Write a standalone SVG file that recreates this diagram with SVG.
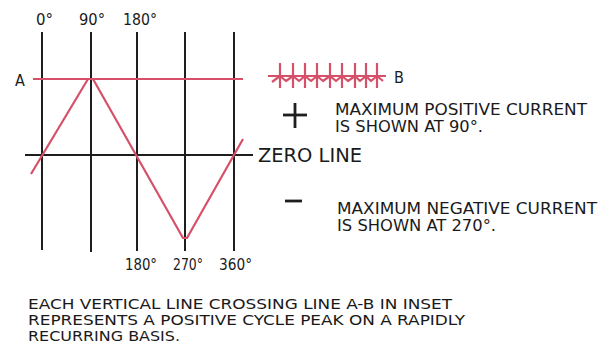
<svg xmlns="http://www.w3.org/2000/svg" width="611" height="359" viewBox="0 0 611 359">
<style>
text{font-family:"DejaVu Sans Condensed","DejaVu Sans","Liberation Sans",sans-serif;fill:#1a1a1a}
.k{stroke:#1e1e1e;stroke-width:2;fill:none}
.r{stroke:#d6506a;stroke-width:2.2;fill:none;stroke-linejoin:round}
.s{stroke:#1e1e1e;stroke-width:2.8}
</style>
<rect width="611" height="359" fill="#fff"/>
<g id="grid">
<line class="k" x1="42" y1="32" x2="42" y2="250"/>
<line class="k" x1="91" y1="32" x2="91" y2="252"/>
<line class="k" x1="137" y1="32" x2="137" y2="251"/>
<line class="k" x1="185" y1="32" x2="185" y2="251"/>
<line class="k" x1="234" y1="32" x2="234" y2="251"/>
<line class="k" x1="25" y1="155" x2="253" y2="155"/>
</g>
<g id="wave">
<line class="r" x1="33" y1="79" x2="243" y2="79"/>
<polyline class="r" points="31,174 88,79 93,79 183,238 187,238 243,139"/>
</g>
<g id="labels">
<text x="36" y="25" font-size="15" textLength="17" lengthAdjust="spacingAndGlyphs">0°</text>
<text x="79" y="25" font-size="15" textLength="26" lengthAdjust="spacingAndGlyphs">90°</text>
<text x="123" y="25" font-size="15" textLength="34" lengthAdjust="spacingAndGlyphs">180°</text>
<text x="125" y="270" font-size="15" textLength="32" lengthAdjust="spacingAndGlyphs">180°</text>
<text x="173" y="270" font-size="15" textLength="30" lengthAdjust="spacingAndGlyphs">270°</text>
<text x="219" y="270" font-size="15" textLength="33" lengthAdjust="spacingAndGlyphs">360°</text>
<text x="15" y="86" font-size="16">A</text>
<text x="258" y="162" font-size="20" textLength="104" lengthAdjust="spacingAndGlyphs">ZERO LINE</text>
</g>
<g id="inset">
<line class="r" x1="268" y1="76" x2="386" y2="76"/>
<g class="r" stroke-width="1.6">
<line x1="280" y1="63" x2="280" y2="88"/>
<line x1="293" y1="63" x2="293" y2="88"/>
<line x1="305" y1="63" x2="305" y2="88"/>
<line x1="317" y1="63" x2="317" y2="88"/>
<line x1="330" y1="63" x2="330" y2="88"/>
<line x1="342" y1="63" x2="342" y2="88"/>
<line x1="355" y1="63" x2="355" y2="88"/>
<line x1="366" y1="63" x2="366" y2="88"/>
<line x1="377" y1="63" x2="377" y2="88"/>
<polyline points="272,82 280,76 286,81 293,76 299,81 305,76 311,81 317,76 323,81 330,76 336,81 342,76 348,81 355,76 360,81 366,76 371,81 377,76 383,81"/>
</g>
<text x="394" y="83" font-size="16">B</text>
</g>
<g id="positive">
<line class="s" x1="283" y1="115" x2="307" y2="115"/>
<line class="s" x1="295" y1="103" x2="295" y2="128"/>
<text x="335" y="115" font-size="15" textLength="252" lengthAdjust="spacingAndGlyphs">MAXIMUM POSITIVE CURRENT</text>
<text x="335" y="132" font-size="15" textLength="148" lengthAdjust="spacingAndGlyphs">IS SHOWN AT 90°.</text>
</g>
<g id="negative">
<line class="s" x1="285" y1="201" x2="302" y2="201"/>
<text x="337" y="214" font-size="15" textLength="260" lengthAdjust="spacingAndGlyphs">MAXIMUM NEGATIVE CURRENT</text>
<text x="337" y="231" font-size="15" textLength="159" lengthAdjust="spacingAndGlyphs">IS SHOWN AT 270°.</text>
</g>
<g id="caption">
<text x="28" y="309" font-size="14" textLength="424" lengthAdjust="spacingAndGlyphs">EACH VERTICAL LINE CROSSING LINE A-B IN INSET</text>
<text x="28" y="325" font-size="14" textLength="437" lengthAdjust="spacingAndGlyphs">REPRESENTS A POSITIVE CYCLE PEAK ON A RAPIDLY</text>
<text x="28" y="341" font-size="14" textLength="152" lengthAdjust="spacingAndGlyphs">RECURRING BASIS.</text>
</g>
</svg>
